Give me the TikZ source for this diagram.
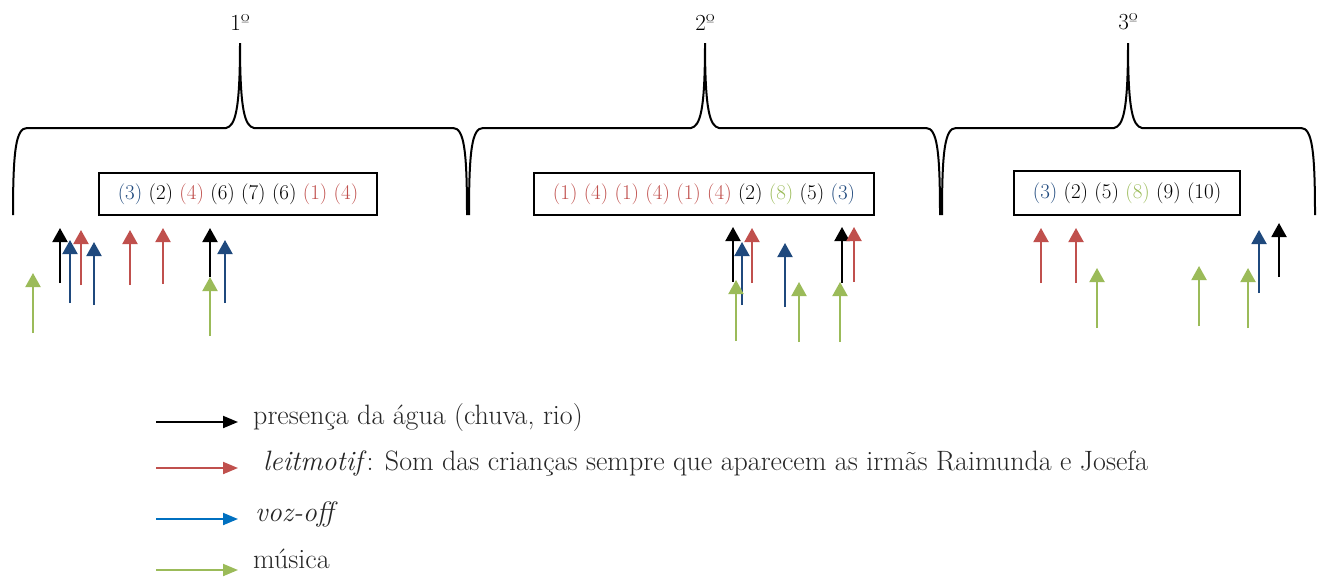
\documentclass[tikz,border=0pt]{standalone}
\usepackage{fontspec}
\usetikzlibrary{arrows.meta}
\definecolor{cred}{HTML}{C0504D}
\definecolor{cblue}{HTML}{1F497D}
\definecolor{cgreen}{HTML}{9BBB59}
\definecolor{lblue}{HTML}{0070C0}
\definecolor{ltext}{HTML}{262626}
\tikzset{
  arr/.style={line width=2pt,-{Triangle[width=15pt,length=14pt]}},
  legarr/.style={line width=2pt,-{Triangle[width=12pt,length=15pt]}},
  bracest/.style={line width=2pt,black},
  boxst/.style={draw,line width=1.5pt,inner sep=0pt,font=\fontsize{21}{24}\selectfont},
  lab/.style={font=\fontsize{23}{26}\selectfont},
  legtext/.style={anchor=mid west,inner sep=0pt,text=ltext,font=\fontsize{28}{32}\selectfont}
}
\newcommand\upar[5]{%
  \coordinate (#5s) at (#2,#4);
  \coordinate (#5e) at (#2,#3);
  \draw[arr,#1] (#5s) -- (#5e);}
\newcommand\mybrace[4]{%
  \coordinate (#4l) at (#1,215);
  \coordinate (#4c) at (#2,43);
  \coordinate (#4r) at (#3,215);
  \draw[bracest] (#4l) .. controls (#1,150) and ({#1+3},128) .. ({#1+14},128)
    -- ({#2-14},128) .. controls ({#2-5},126) and (#2,112) .. (#4c)
    .. controls (#2,112) and ({#2+5},126) .. ({#2+14},128)
    -- ({#3-14},128) .. controls ({#3-3},128) and (#3,150) .. (#4r);}
\begin{document}
\begin{tikzpicture}[x=1pt,y=-1pt]
\useasboundingbox (0,0) rectangle (1324,579);
% braces
\mybrace{13}{240}{467}{br1}
\mybrace{469}{705}{940}{br2}
\mybrace{942}{1128}{1315}{br3}
\node[lab] (l1) at (240,22) {1º};
\node[lab] (l2) at (705,22) {2º};
\node[lab] (l3) at (1128,22) {3º};
% boxes
\node[boxst,minimum width=278pt,minimum height=42pt] (b1) at (238,194)
  {\textcolor{cblue}{(3)} (2) \textcolor{cred}{(4)} (6) (7) (6) \textcolor{cred}{(1) (4)}};
\node[boxst,minimum width=340pt,minimum height=42pt] (b2) at (704,194)
  {\textcolor{cred}{(1) (4) (1) (4) (1) (4)} (2) \textcolor{cgreen}{(8)} (5) \textcolor{cblue}{(3)}};
\node[boxst,minimum width=226pt,minimum height=44pt] (b3) at (1127,193)
  {\textcolor{cblue}{(3)} (2) (5) \textcolor{cgreen}{(8)} (9) (10)};
% group 1
\upar{black}{60}{228}{283}{ka}
\upar{black}{210}{228}{277}{kb}
\upar{cred}{81}{230}{285}{ra}
\upar{cred}{130}{230}{285}{rb}
\upar{cred}{163}{228}{284}{rc}
\upar{cblue}{70}{240}{303}{ua}
\upar{cblue}{94}{242}{305}{ub}
\upar{cblue}{225}{240}{303}{uc}
\upar{cgreen}{33}{273}{333}{ga}
\upar{cgreen}{210}{277}{336}{gb}
% group 2
\upar{black}{733}{227}{282}{kc}
\upar{black}{842}{227}{283}{kd}
\upar{cred}{752}{228}{283}{rd}
\upar{cred}{854}{227}{282}{re}
\upar{cblue}{742}{242}{305}{ud}
\upar{cblue}{785}{243}{307}{ue}
\upar{cgreen}{736}{280}{341}{gc}
\upar{cgreen}{799}{282}{342}{gd}
\upar{cgreen}{840}{282}{342}{ge}
% group 3
\upar{cred}{1041}{228}{283}{rf}
\upar{cred}{1076}{228}{283}{rg}
\upar{cblue}{1259}{230}{293}{uf}
\upar{black}{1279}{223}{277}{ke}
\upar{cgreen}{1097}{268}{328}{gf}
\upar{cgreen}{1199}{266}{326}{gg}
\upar{cgreen}{1248}{268}{328}{gh}
% legend
\coordinate (la1) at (156,422); \coordinate (lb1) at (238,422);
\coordinate (la2) at (156,468); \coordinate (lb2) at (238,468);
\coordinate (la3) at (156,519); \coordinate (lb3) at (238,519);
\coordinate (la4) at (156,570); \coordinate (lb4) at (238,570);
\draw[legarr,black] (la1) -- (lb1);
\draw[legarr,cred] (la2) -- (lb2);
\draw[legarr,lblue] (la3) -- (lb3);
\draw[legarr,cgreen] (la4) -- (lb4);
\node[legtext] (t1) at (253,422) {presença da água (chuva, rio)};
\node[legtext] (t2) at (263,468) {\textit{leitmotif}: Som das crianças sempre que aparecem as irmãs Raimunda e Josefa};
\node[legtext] (t3) at (255,519) {\textit{voz-off}};
\node[legtext] (t4) at (253,566) {música};
\end{tikzpicture}
\end{document}
